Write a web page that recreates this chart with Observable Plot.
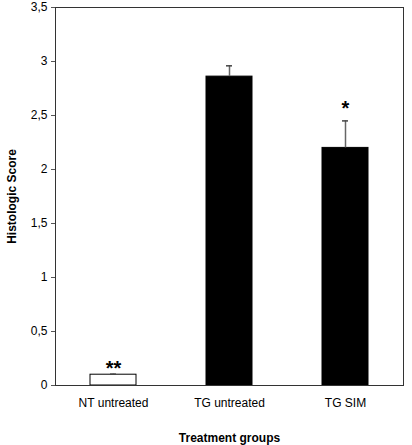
<!DOCTYPE html>
<html><head><meta charset="utf-8">
<script src="https://cdn.jsdelivr.net/npm/d3@7"></script>
<script src="https://cdn.jsdelivr.net/npm/@observablehq/plot@0.6"></script>
<style>
body{margin:0;background:#fff}
#chart svg [aria-label="y-axis label"] text, #chart svg [aria-label="x-axis label"] text{font-weight:bold}
</style>
</head><body><div id="chart"></div>
<script>
const groups = ["NT untreated", "TG untreated", "TG SIM"];
const scores = [0.10, 2.86, 2.20];
const errors = [0.005, 0.10, 0.25];
const fills = ["white", "black", "black"];
const sig = ["**", "", "*"];
const yTicks = [0, 0.5, 1, 1.5, 2, 2.5, 3, 3.5];

const data = groups.map((g, i) => ({group: g, score: scores[i], top: scores[i] + errors[i], fill: fills[i], sig: sig[i]}));
const fmt = d => String(d).replace(".", ",");

const chart = Plot.plot({
  width: 412, height: 445,
  marginLeft: 55, marginTop: 7, marginRight: 9, marginBottom: 60,
  style: {fontFamily: "'Liberation Sans', Arial, sans-serif", fontSize: "12px", color: "#000", background: "#fff"},
  x: {domain: groups, paddingInner: 0.6, paddingOuter: 0.3},
  y: {domain: [0, 3.5]},
  color: {type: "identity"},
  marks: [
    Plot.barY(data, {x: "group", y: "score", fill: "fill", stroke: "black", strokeWidth: 1}),
    Plot.ruleX(data, {x: "group", y1: "score", y2: "top", stroke: "#666", strokeWidth: 1.5}),
    Plot.tickY(data, {x: "group", y: "top", stroke: "#444", strokeWidth: 1.5, insetLeft: 20, insetRight: 20}),
    Plot.text(data.filter(d => d.sig === "**"), {x: "group", y: "top", text: "sig", fontSize: 20, fontWeight: "bold", dy: -6}),
    Plot.text(data.filter(d => d.sig === "*"), {x: "group", y: "top", text: "sig", fontSize: 20, fontWeight: "bold", dy: -12}),
    Plot.frame({stroke: "#333"}),
    Plot.axisY(yTicks, {tickFormat: fmt, tickSize: 4, tickPadding: 4, stroke: "#555",
      label: "Histologic Score", labelArrow: "none", labelAnchor: "center", labelOffset: 48}),
    Plot.axisX({tickSize: 0, tickPadding: 13, label: "Treatment groups", labelArrow: "none", labelAnchor: "center", labelOffset: 56})
  ]
});
document.getElementById("chart").append(chart);
</script>
</body></html>
